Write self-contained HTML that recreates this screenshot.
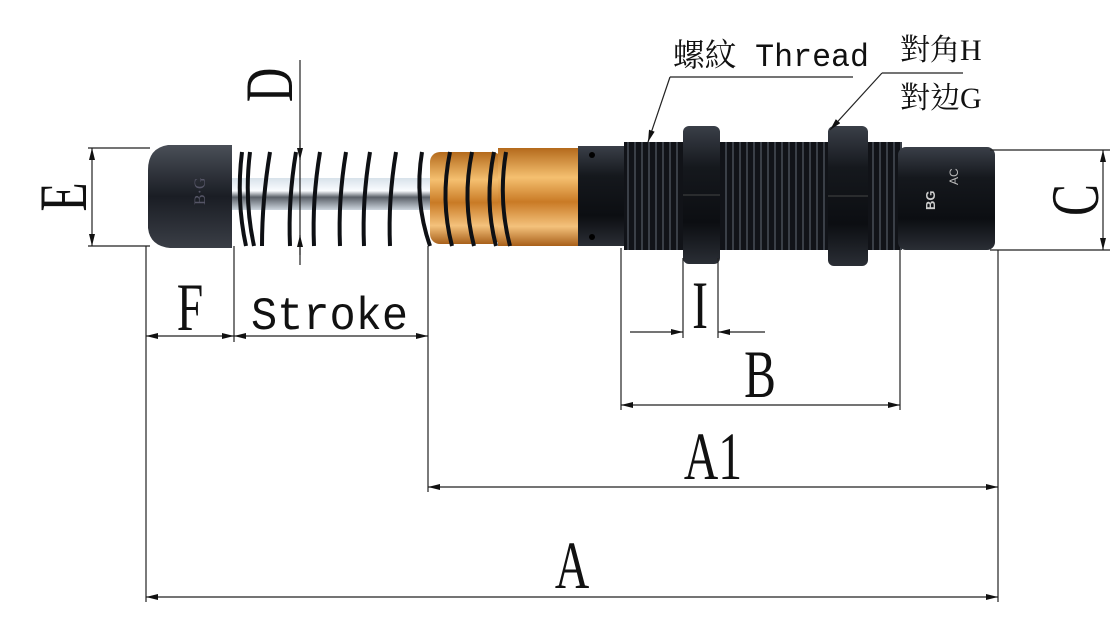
<!DOCTYPE html>
<html><head><meta charset="utf-8"><style>
html,body{margin:0;padding:0;background:#fff;}
svg{display:block}
</style></head><body>
<svg width="1120" height="620" viewBox="0 0 1120 620" xmlns="http://www.w3.org/2000/svg">
<defs>
<marker id="ar" viewBox="0 0 12 6" refX="12" refY="3" markerWidth="12" markerHeight="6" orient="auto-start-reverse" markerUnits="userSpaceOnUse">
<path d="M0,0 L12,3 L0,6 Z" fill="#111"/></marker>
<linearGradient id="blk" x1="0" y1="0" x2="0" y2="1">
<stop offset="0" stop-color="#3a3f48"/><stop offset="0.3" stop-color="#15181d"/><stop offset="0.7" stop-color="#0c0e12"/><stop offset="1" stop-color="#2a2e35"/></linearGradient>
<linearGradient id="cap" x1="0" y1="0" x2="0" y2="1">
<stop offset="0" stop-color="#4a4f58"/><stop offset="0.5" stop-color="#1a1d24"/><stop offset="1" stop-color="#3a3e46"/></linearGradient>
<linearGradient id="brass" x1="0" y1="0" x2="0" y2="1">
<stop offset="0" stop-color="#b46a1c"/><stop offset="0.3" stop-color="#f5c070"/><stop offset="0.55" stop-color="#c97a25"/><stop offset="0.8" stop-color="#f4c27c"/><stop offset="1" stop-color="#a8601a"/></linearGradient>
<linearGradient id="rod" x1="0" y1="0" x2="0" y2="1">
<stop offset="0" stop-color="#d8e2ea"/><stop offset="0.4" stop-color="#fafcff"/><stop offset="0.6" stop-color="#5a6068"/><stop offset="1" stop-color="#cdd6de"/></linearGradient>
<pattern id="thr" width="7" height="10" patternUnits="userSpaceOnUse">
<rect width="7" height="10" fill="#111318"/><rect x="4" width="2" height="10" fill="#3a3f47"/></pattern>
</defs>

<rect x="232" y="178" width="210" height="32" fill="url(#rod)"/>
<rect x="430" y="152" width="72" height="92" rx="10" fill="url(#brass)"/>
<rect x="498" y="148" width="82" height="98" fill="url(#brass)"/>
<rect x="578" y="146" width="50" height="100" fill="url(#blk)"/>
<circle cx="592" cy="155" r="3" fill="#000"/><circle cx="592" cy="237" r="3" fill="#000"/>
<rect x="624" y="142" width="278" height="108" fill="url(#thr)"/>
<rect x="898" y="147" width="97" height="103" rx="8" fill="url(#blk)"/>
<text x="935" y="210" transform="rotate(-90 935 210)" style="font-family:'Liberation Sans',sans-serif;font-size:13px;font-weight:bold;fill:#ccc">BG</text>
<text x="958" y="185" transform="rotate(-90 958 185)" style="font-family:'Liberation Sans',sans-serif;font-size:12px;fill:#bbb">AC</text>
<rect x="683" y="126" width="37" height="138" rx="6" fill="url(#blk)"/>
<line x1="683" y1="195" x2="720" y2="195" stroke="#444"/>
<rect x="828" y="126" width="40" height="140" rx="6" fill="url(#blk)"/>
<line x1="828" y1="196" x2="868" y2="196" stroke="#444"/>
<path d="M232,145 L168,145 Q148,148 148,170 L148,228 Q150,246 170,248 L232,248 Z" fill="url(#cap)"/>
<text x="205" y="205" transform="rotate(-90 205 205)" style="font-family:'Liberation Serif',serif;font-size:16px;fill:#556">B·G</text>
<g fill="none" stroke="#0e1014" stroke-width="4">
<path d="M242,152 Q236,200 246,246"/><path d="M250,152 Q244,200 254,246"/>
<path d="M270,152 Q262,200 262,246"/><path d="M296,152 Q288,200 290,246"/>
<path d="M320,152 Q312,200 314,246"/><path d="M346,152 Q338,200 340,246"/>
<path d="M370,152 Q362,200 364,246"/><path d="M396,152 Q388,200 390,246"/>
<path d="M422,152 Q414,200 430,246"/><path d="M450,152 Q440,200 452,246"/>
<path d="M472,152 Q462,200 474,246"/><path d="M494,152 Q484,200 496,246"/>
<path d="M506,152 Q498,200 510,246"/>
</g>

<g stroke="#222" stroke-width="1.2" fill="none">
<line x1="88" y1="148" x2="150" y2="148"/><line x1="88" y1="246" x2="150" y2="246"/>
<line x1="990" y1="150" x2="1110" y2="150"/><line x1="990" y1="250" x2="1110" y2="250"/>
<line x1="146" y1="246" x2="146" y2="602"/><line x1="234" y1="246" x2="234" y2="342"/>
<line x1="428" y1="246" x2="428" y2="492"/><line x1="621" y1="248" x2="621" y2="410"/>
<line x1="900" y1="250" x2="900" y2="410"/><line x1="998" y1="250" x2="998" y2="602"/>
<line x1="683" y1="258" x2="683" y2="338"/><line x1="718" y1="258" x2="718" y2="338"/>
<line x1="300" y1="60" x2="300" y2="265"/>
<line x1="670" y1="77" x2="853" y2="77"/><line x1="882" y1="73" x2="963" y2="73"/>
</g>
<g stroke="#222" stroke-width="1.2" fill="none">
<line x1="92" y1="148" x2="92" y2="246" marker-start="url(#ar)" marker-end="url(#ar)"/>
<line x1="1103" y1="150" x2="1103" y2="250" marker-start="url(#ar)" marker-end="url(#ar)"/>
<line x1="146" y1="336" x2="234" y2="336" marker-start="url(#ar)" marker-end="url(#ar)"/>
<line x1="234" y1="336" x2="428" y2="336" marker-start="url(#ar)" marker-end="url(#ar)"/>
<line x1="630" y1="332" x2="683" y2="332" marker-end="url(#ar)"/>
<line x1="765" y1="332" x2="718" y2="332" marker-end="url(#ar)"/>
<line x1="621" y1="405" x2="900" y2="405" marker-start="url(#ar)" marker-end="url(#ar)"/>
<line x1="428" y1="487" x2="998" y2="487" marker-start="url(#ar)" marker-end="url(#ar)"/>
<line x1="146" y1="597" x2="998" y2="597" marker-start="url(#ar)" marker-end="url(#ar)"/>
<line x1="300" y1="140" x2="300" y2="160" marker-end="url(#ar)"/>
<line x1="300" y1="255" x2="300" y2="235" marker-end="url(#ar)"/>
<line x1="670" y1="77" x2="648" y2="142" marker-end="url(#ar)"/>
<line x1="882" y1="73" x2="830" y2="130" marker-end="url(#ar)"/>
</g>

<g style="font-family:'Liberation Serif',serif;font-size:68px;fill:#111" text-anchor="middle">
<g transform="translate(62 197) rotate(-90) scale(0.7 1)"><text x="0" y="24">E</text></g>
<g transform="translate(268 85) rotate(-90) scale(0.7 1)"><text x="0" y="24">D</text></g>
<g transform="translate(1074 200) rotate(-90) scale(0.7 1)"><text x="0" y="24">C</text></g>
<g transform="translate(190 330) scale(0.7 1)"><text x="0" y="0">F</text></g>
<g transform="translate(700 328) scale(0.7 1)"><text x="0" y="0">I</text></g>
<g transform="translate(760 397) scale(0.7 1)"><text x="0" y="0">B</text></g>
<g transform="translate(713 479) scale(0.7 1)"><text x="0" y="0">A1</text></g>
<g transform="translate(572 588) scale(0.7 1)"><text x="0" y="0">A</text></g>
</g>
<text x="251" y="329" textLength="157" lengthAdjust="spacingAndGlyphs" style="font-family:'Liberation Mono',monospace;font-size:46px;fill:#111">Stroke</text>
<text x="673" y="66" textLength="196" lengthAdjust="spacingAndGlyphs" style="font-family:'Liberation Mono','Noto Serif CJK TC',monospace;font-size:32px;fill:#111">螺紋 Thread</text>
<text x="900" y="60" style="font-family:'Liberation Serif','Noto Serif CJK TC',serif;font-size:30px;fill:#111">對角H</text>
<text x="900" y="108" style="font-family:'Liberation Serif','Noto Serif CJK TC',serif;font-size:30px;fill:#111">對边G</text>
</svg>
</body></html>
